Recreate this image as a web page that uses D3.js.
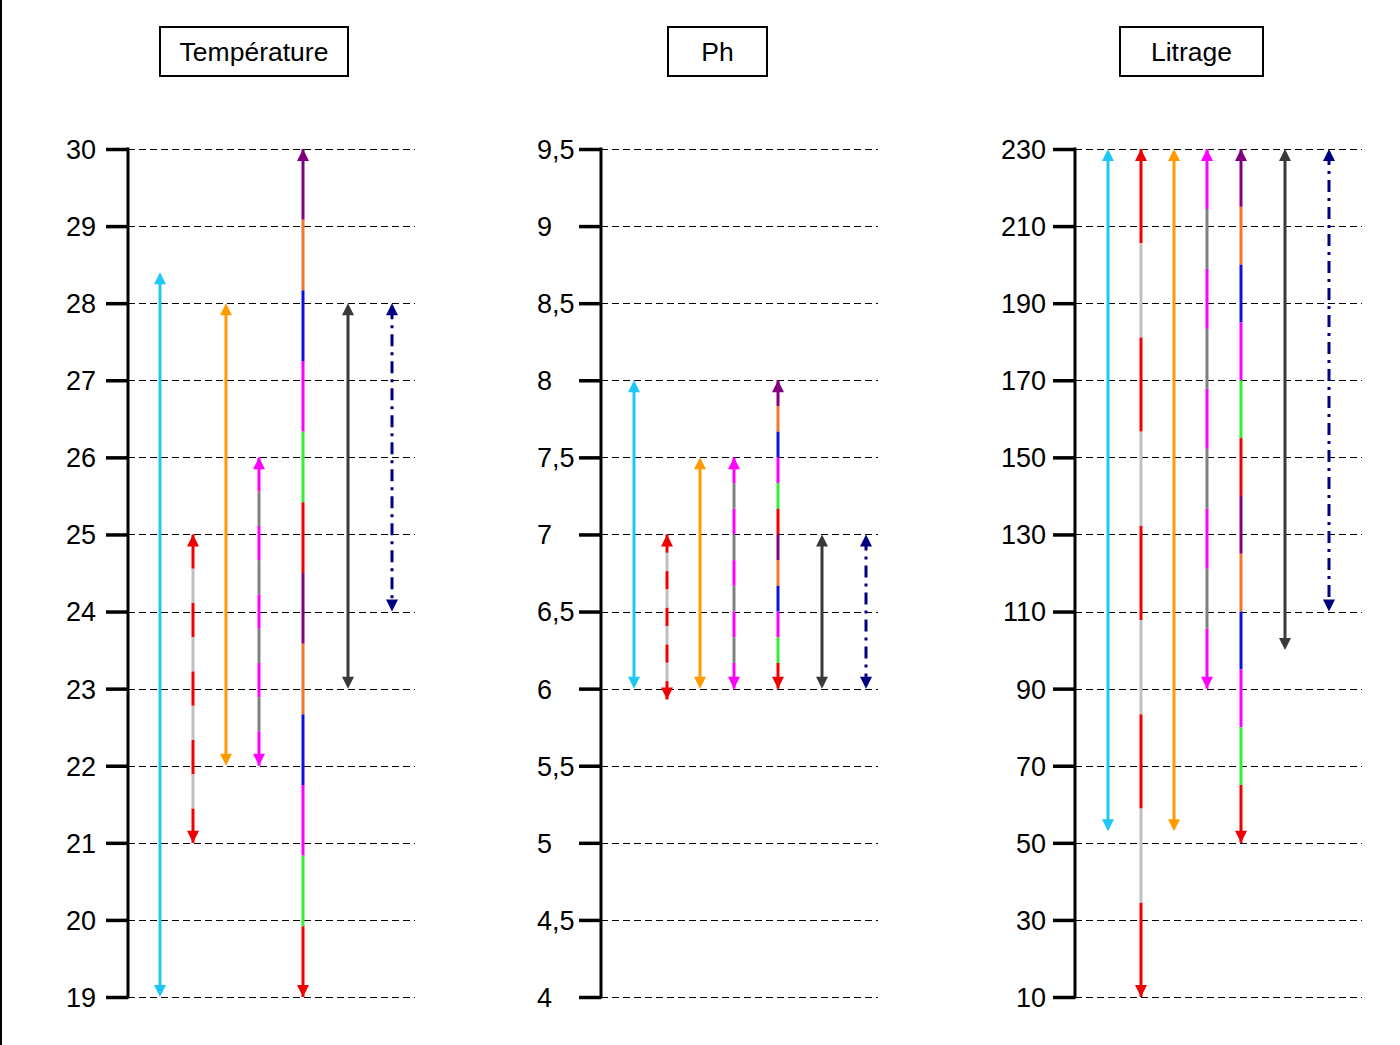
<!DOCTYPE html>
<html>
<head>
<meta charset="utf-8">
<script src="https://cdn.jsdelivr.net/npm/d3@7"></script>
<style>
  html, body { margin: 0; padding: 0; background: #fff; }
  svg { display: block; }
  text { font-family: "Liberation Sans", Arial, sans-serif; }
</style>
</head>
<body>
<svg id="chart" width="1400" height="1045"></svg>
<script>
// ---------------- DATA ----------------
const panelTitles = ["Température", "Ph", "Litrage"];
const seriesNames = ["s1", "s2", "s3", "s4", "s5", "s6", "s7"];

const tempTicks = [19, 20, 21, 22, 23, 24, 25, 26, 27, 28, 29, 30];
const tempTickLabels = ["19", "20", "21", "22", "23", "24", "25", "26", "27", "28", "29", "30"];
const tempLow  = [19, 21, 22, 22, 19, 23, 24];
const tempHigh = [28.4, 25, 28, 26, 30, 28, 28];

const phTicks = [4, 4.5, 5, 5.5, 6, 6.5, 7, 7.5, 8, 8.5, 9, 9.5];
const phTickLabels = ["4", "4,5", "5", "5,5", "6", "6,5", "7", "7,5", "8", "8,5", "9", "9,5"];
const phLow  = [6, 5.93, 6, 6, 6, 6, 6];
const phHigh = [8, 7, 7.5, 7.5, 8, 7, 7];

const litTicks = [10, 30, 50, 70, 90, 110, 130, 150, 170, 190, 210, 230];
const litTickLabels = ["10", "30", "50", "70", "90", "110", "130", "150", "170", "190", "210", "230"];
const litLow  = [53, 10, 53, 90, 50, 100, 110];
const litHigh = [230, 230, 230, 230, 230, 230, 230];

// ---------------- STYLES / LAYOUT ----------------
const seriesStyle = {
  s1: { colors: ["#1EC8F5"], segments: 1, head: ["#1EC8F5", "#1EC8F5"] },
  s2: { colors: ["#F00000", "#C0C0C0"], segments: 9, head: ["#F00000", "#F00000"] },
  s3: { colors: ["#FF9A00"], segments: 1, head: ["#FF9A00", "#FF9A00"] },
  s4: { colors: ["#FF00FF", "#808080"], segments: 9, head: ["#FF00FF", "#FF00FF"] },
  s5: { colors: ["#800080", "#F07828", "#1010E0", "#FF00FF", "#33EE33", "#F00000"], segments: 12, head: ["#800080", "#F00000"] },
  s6: { colors: ["#3A3A3A"], segments: 1, head: ["#3A3A3A", "#3A3A3A"] },
  s7: { colors: ["#000080"], segments: 1, head: ["#000080", "#000080"], dash: "12,6,3,6" }
};

const panels = [
  { title: panelTitles[0], ticks: tempTicks, labels: tempTickLabels, low: tempLow, high: tempHigh,
    axisX: 128, gridEnd: 415, labelAnchor: "end", labelX: 96,
    offsets: [32, 65, 98, 131, 175, 220, 264], box: [160, 27, 188, 49] },
  { title: panelTitles[1], ticks: phTicks, labels: phTickLabels, low: phLow, high: phHigh,
    axisX: 601, gridEnd: 878, labelAnchor: "start", labelX: 537,
    offsets: [33, 66, 99, 133, 177, 221, 265], box: [668, 27, 99, 49] },
  { title: panelTitles[2], ticks: litTicks, labels: litTickLabels, low: litLow, high: litHigh,
    axisX: 1075, gridEnd: 1362, labelAnchor: "end", labelX: 1046,
    offsets: [33, 66, 99, 132, 166, 210, 254], box: [1120, 27, 143, 49] }
];

const yTop = 149, yBottom = 997;
const svg = d3.select("#chart");

// left border line
svg.append("line").attr("x1", 1).attr("x2", 1).attr("y1", 0).attr("y2", 1045)
  .attr("stroke", "#000").attr("stroke-width", 2);

panels.forEach(p => {
  const g = svg.append("g");
  const y = d3.scaleLinear()
    .domain([p.ticks[0], p.ticks[p.ticks.length - 1]])
    .range([yBottom, yTop]);
  const x = d3.scaleOrdinal().domain(seriesNames).range(p.offsets.map(o => p.axisX + o));

  // title box
  g.append("rect")
    .attr("x", p.box[0]).attr("y", p.box[1]).attr("width", p.box[2]).attr("height", p.box[3])
    .attr("fill", "#fff").attr("stroke", "#000").attr("stroke-width", 2);
  g.append("text")
    .attr("x", p.box[0] + p.box[2] / 2).attr("y", p.box[1] + p.box[3] / 2 + 9)
    .attr("text-anchor", "middle").attr("font-size", 26.5).attr("fill", "#000")
    .text(p.title);

  // gridlines
  g.selectAll(".grid").data(p.ticks).join("line")
    .attr("x1", p.axisX).attr("x2", p.gridEnd)
    .attr("y1", d => Math.round(y(d)) + 0.5).attr("y2", d => Math.round(y(d)) + 0.5)
    .attr("stroke", "#000").attr("stroke-width", 1).attr("stroke-dasharray", "7,4");

  // axis
  const axis = d3.axisLeft(y).tickValues(p.ticks).tickSize(22).tickFormat((d, i) => p.labels[i]);
  const ag = g.append("g").attr("transform", `translate(${p.axisX},0)`).call(axis);
  ag.select(".domain").remove();
  ag.selectAll(".tick line").attr("stroke", "#000").attr("stroke-width", 3.5);
  ag.selectAll(".tick text")
    .attr("font-size", 27).attr("fill", "#000")
    .attr("font-family", "'Liberation Sans', Arial, sans-serif")
    .attr("text-anchor", p.labelAnchor)
    .attr("x", p.labelX - p.axisX)
    .attr("dy", "0.35em");
  g.append("line").attr("x1", p.axisX).attr("x2", p.axisX)
    .attr("y1", y(p.ticks[p.ticks.length - 1]) - 1.5).attr("y2", y(p.ticks[0]) + 1.5)
    .attr("stroke", "#000").attr("stroke-width", 3);

  // arrows
  seriesNames.forEach((s, i) => {
    const st = seriesStyle[s];
    const cx = x(s);
    const yHi = y(p.high[i]), yLo = y(p.low[i]);
    const ag2 = g.append("g");
    if (st.segments === 1) {
      ag2.append("line").attr("x1", cx).attr("x2", cx)
        .attr("y1", yHi + 4).attr("y2", yLo - 4)
        .attr("stroke", st.colors[0]).attr("stroke-width", 3)
        .attr("stroke-dasharray", st.dash || null);
    } else {
      const segScale = d3.scaleLinear().domain([0, st.segments]).range([yHi, yLo]);
      d3.range(st.segments).forEach(k => {
        ag2.append("line").attr("x1", cx).attr("x2", cx)
          .attr("y1", segScale(k)).attr("y2", segScale(k + 1))
          .attr("stroke", st.colors[k % st.colors.length]).attr("stroke-width", 3);
      });
    }
    const hw = 6, hl = 12;
    // top head
    ag2.append("path")
      .attr("d", `M${cx},${yHi} L${cx - hw},${yHi + hl} L${cx + hw},${yHi + hl} Z`)
      .attr("fill", st.head[0]);
    // bottom head
    ag2.append("path")
      .attr("d", `M${cx},${yLo} L${cx - hw},${yLo - hl} L${cx + hw},${yLo - hl} Z`)
      .attr("fill", st.head[1]);
  });
});
</script>
</body>
</html>
